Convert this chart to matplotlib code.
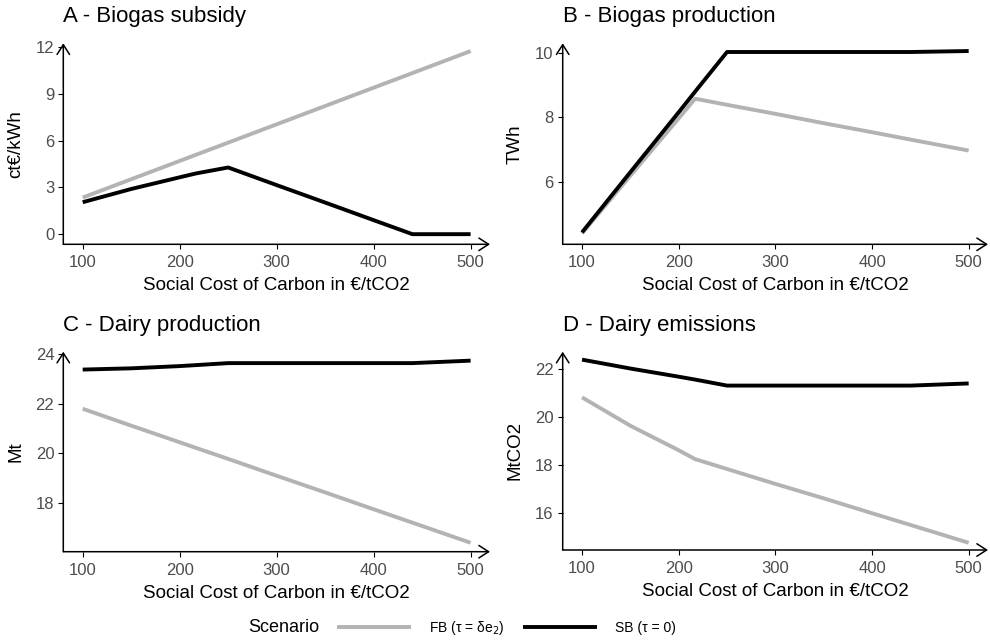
import numpy as np
import matplotlib
matplotlib.use("Agg")
import matplotlib.pyplot as plt

plt.rcParams['font.family'] = ['Liberation Sans', 'DejaVu Sans']

## social cost of carbon in EUR/tCO2
scc = [100, 150, 200, 217, 250, 300, 350, 400, 440, 500]

## FB = first best (tau = delta e2), SB = second best (tau = 0)
subsidy_fb = [2.35, 3.525, 4.7, 5.1, 5.875, 7.05, 8.225, 9.4, 10.34, 11.75]
subsidy_sb = [2.05, 2.9, 3.65, 3.9, 4.28, 3.15, 2.03, 0.9, 0.0, 0.0]

biogas_fb = [4.4, 6.19, 7.97, 8.58, 8.39, 8.11, 7.82, 7.54, 7.31, 6.97]
biogas_sb = [4.43, 6.3, 8.16, 8.8, 10.03, 10.03, 10.03, 10.03, 10.03, 10.06]

dairy_fb = [21.8, 21.12, 20.45, 20.22, 19.78, 19.1, 18.43, 17.75, 17.21, 16.4]
dairy_sb = [23.38, 23.43, 23.52, 23.56, 23.64, 23.64, 23.64, 23.64, 23.64, 23.74]

emis_fb = [20.8, 19.62, 18.6, 18.23, 17.82, 17.2, 16.6, 15.98, 15.49, 14.75]
emis_sb = [22.37, 22.0, 21.66, 21.54, 21.29, 21.29, 21.29, 21.29, 21.29, 21.38]

titles = ['A - Biogas subsidy', 'B - Biogas production', 'C - Dairy production', 'D - Dairy emissions']
ylabels = ['ct€/kWh', 'TWh', 'Mt', 'MtCO2']
yticks = [[0, 3, 6, 9, 12], [6, 8, 10], [18, 20, 22, 24], [16, 18, 20, 22]]
ylims = [(-0.65, 12.25), (4.06, 10.3), (16.04, 24.1), (14.45, 22.7)]
series = [(subsidy_fb, subsidy_sb), (biogas_fb, biogas_sb), (dairy_fb, dairy_sb), (emis_fb, emis_sb)]

grey = '#b3b3b3'
W, H = 990, 641
fig = plt.figure(figsize=(W / 100, H / 100), dpi=100)

## panel boxes in pixels: left, right, top, bottom
boxes = [(63.3, 490, 43.3, 244.3), (562.7, 988, 43.3, 244.3),
         (63.3, 490, 351.7, 551.7), (562.7, 988, 351.7, 550)]

for i, (l, r, t, b) in enumerate(boxes):
    ax = fig.add_axes([l / W, 1 - b / H, (r - l) / W, (b - t) / H])
    fb, sb = series[i]
    lfb, = ax.plot(scc, fb, color=grey, lw=2.8, solid_capstyle='butt')
    lsb, = ax.plot(scc, sb, color='black', lw=2.8, solid_capstyle='butt')
    ax.set_xlim(80, 520)
    ax.set_ylim(*ylims[i])
    ax.set_xticks([100, 200, 300, 400, 500])
    ax.set_yticks(yticks[i])
    for s in ax.spines.values():
        s.set_visible(False)
    ax.tick_params(length=3.5, width=0.8, color='black', labelcolor='#4d4d4d', labelsize=12, pad=3)
    ax.tick_params(axis='x', pad=4.5)
    ax.annotate('', xy=(1, 0), xytext=(0, 0), xycoords='axes fraction',
                arrowprops=dict(arrowstyle='->,head_length=0.7,head_width=0.45', lw=1.1,
                                color='black', shrinkA=0, shrinkB=0), annotation_clip=False)
    ax.annotate('', xy=(0, 1), xytext=(0, 0), xycoords='axes fraction',
                arrowprops=dict(arrowstyle='->,head_length=0.7,head_width=0.45', lw=1.1,
                                color='black', shrinkA=0, shrinkB=0), annotation_clip=False)
    ax.set_title(titles[i], loc='left', fontsize=16, pad=15)
    ax.set_xlabel('Social Cost of Carbon in €/tCO2', fontsize=13.5, labelpad=5)
    ax.set_ylabel(ylabels[i], fontsize=13.5)
    ax.yaxis.set_label_coords(-0.092, 0.5)

fig.text(248 / W, 1 - 628 / H, 'Scenario', fontsize=13, va='center', ha='left')
fig.legend([lfb, lsb], ['FB (τ = δe$_2$)', 'SB (τ = 0)'], loc='center left',
           bbox_to_anchor=(330 / W, 1 - 628 / H), ncol=2, frameon=False, fontsize=10,
           handlelength=5.3, handletextpad=1.3, columnspacing=1.4, borderpad=0)

fig.savefig('out.png', dpi=100)
